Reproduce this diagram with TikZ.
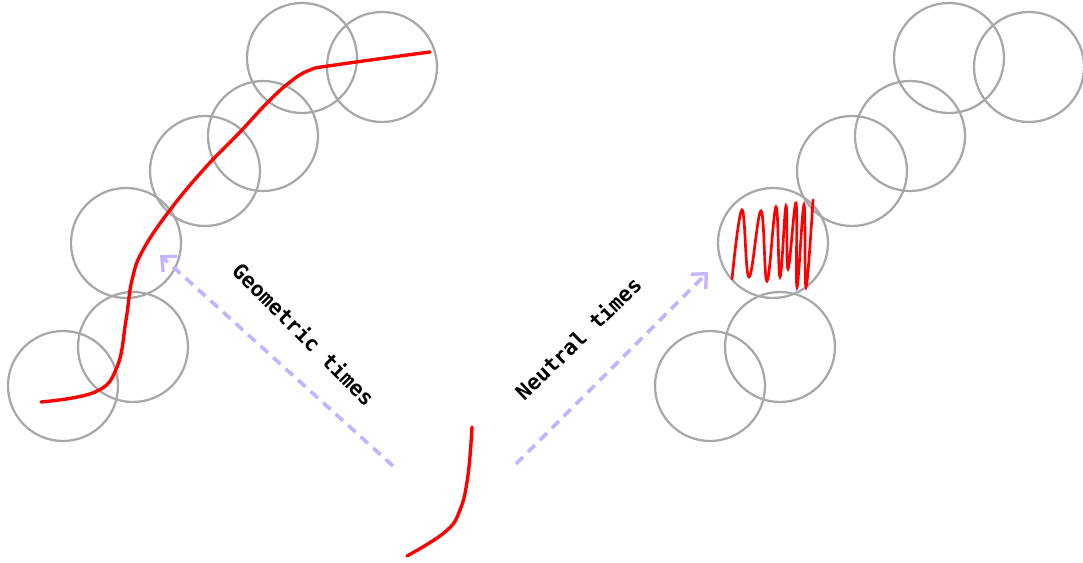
\documentclass[tikz,border=0pt]{standalone}
\usepackage{fontspec}
\setmonofont{DejaVu Sans Mono}
\usetikzlibrary{arrows.meta}

\definecolor{ringgray}{RGB}{168,168,168}
\definecolor{lavender}{RGB}{196,180,255}

\tikzset{
	ring/.style={draw=ringgray, line width=1.6pt},
	path/.style={draw=red, line width=2.4pt, line cap=round},
	timearrow/.style={draw=lavender, line width=2.6pt, dash pattern=on 7pt off 5pt,
		-{Straight Barb[length=8pt, width=15pt, line width=2.4pt]}},
	timelabel/.style={font=\ttfamily\bfseries\fontsize{15}{17}\selectfont, inner sep=0pt}
}

\begin{document}
\begin{tikzpicture}[x=0.025cm, y=-0.025cm]

	\useasboundingbox (0,0) rectangle (1083,563);

	% geometric chain
	\foreach \cx/\cy in {63/386, 133/347, 126/243, 205/171, 263/136, 302/58, 382/67}
		\draw[ring] (\cx,\cy) circle (55);
	\draw[path] plot[smooth, tension=0.7] coordinates {(41,402) (95,392) (117,367)
		(126,320) (132,280) (143,250) (170,210) (205,168) (240,132) (267,103)
		(290,82) (310,70) (335,65) (430,52)};

	% neutral chain
	\begin{scope}[xshift=647*0.025cm]
		\foreach \cx/\cy in {63/386, 133/347, 126/243, 205/171, 263/136, 302/58, 382/67}
			\draw[ring] (\cx,\cy) circle (55);
	\end{scope}
	\draw[path, line width=1.9pt] plot[smooth, tension=0.7] coordinates {(732,279) (742,210) (749,277)
		(761,211) (767,281) (776,207) (780,277) (786,206) (788,269) (796,203)
		(797,287) (804,205) (806,287) (813,200)};

	% starting segment
	\draw[path] plot[smooth, tension=0.7] coordinates {(407,556) (445,532) (460,510)
		(468,475) (472,427)};

	% arrows
	\coordinate (gstart) at (393,466);
	\coordinate (gend) at (160,255);
	\coordinate (nstart) at (516,464);
	\coordinate (nend) at (708,272);
	\draw[timearrow] (gstart) -- (gend);
	\draw[timearrow] (nstart) -- (nend);

	\node[timelabel, rotate=-45] (geo) at (304,334) {Geometric times};
	\node[timelabel, rotate=44] (neu) at (578,338) {Neutral times};

\end{tikzpicture}
\end{document}
